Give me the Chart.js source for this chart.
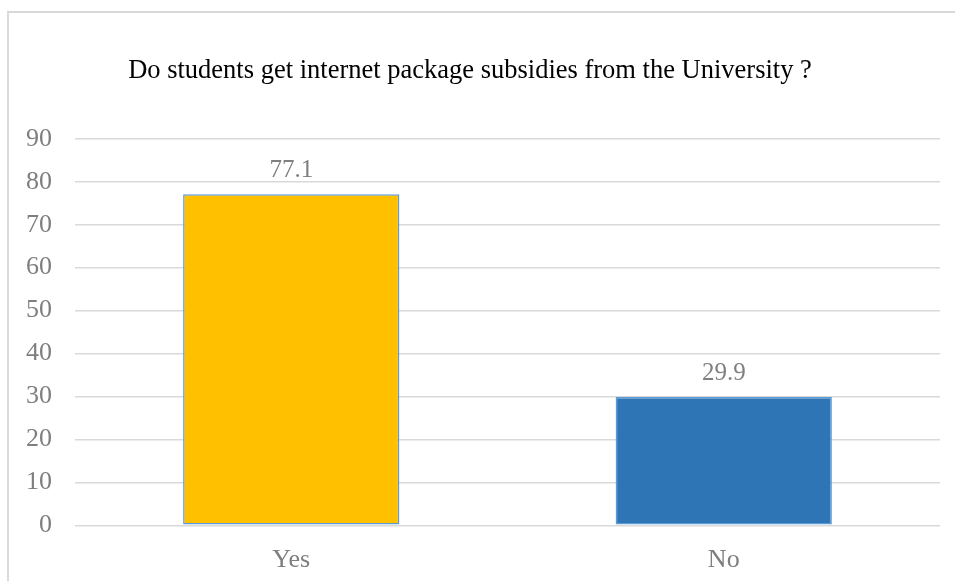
<!DOCTYPE html>
<html>
<head>
<meta charset="utf-8">
<script src="https://cdn.jsdelivr.net/npm/chart.js@4/dist/chart.umd.min.js"></script>
<style>
  html, body { margin: 0; padding: 0; background: #fff; }
  #wrap { position: relative; width: 955px; height: 581px; }
  #frame {
    position: absolute; left: 7px; top: 11px; right: 0; bottom: 0;
    border-top: 2px solid #d9d9d9; border-left: 2px solid #d9d9d9;
    pointer-events: none;
  }
  canvas { position: absolute; left: 0; top: 0; }
</style>
</head>
<body>
<div id="wrap">
  <canvas id="chart" width="955" height="581"></canvas>
  <div id="frame"></div>
</div>
<script>
// ─── Data ───────────────────────────────────────────
const categories = ['Yes', 'No'];
const values     = [77.1, 29.9];
const barColors  = ['#FFC000', '#2E75B6'];
const yTicks     = [0, 10, 20, 30, 40, 50, 60, 70, 80, 90];
const title      = 'Do students get internet package subsidies from the University ?';

const SERIF = "'Times New Roman', 'Liberation Serif', serif";
const GREY  = '#7f7f7f';

// value labels above each bar
const valueLabels = {
  id: 'valueLabels',
  afterDatasetsDraw(chart) {
    const ctx = chart.ctx;
    const meta = chart.getDatasetMeta(0);
    ctx.save();
    ctx.font = `25px ${SERIF}`;
    ctx.fillStyle = GREY;
    ctx.textAlign = 'center';
    ctx.textBaseline = 'alphabetic';
    meta.data.forEach((bar, i) => {
      ctx.fillText(String(values[i]), bar.x, bar.y - 17);
    });
    ctx.restore();
  }
};

new Chart(document.getElementById('chart'), {
  type: 'bar',
  data: {
    labels: categories,
    datasets: [{
      data: values,
      backgroundColor: barColors,
      borderColor: '#5B9BD5',
      borderWidth: 1.5,
      borderSkipped: false,
      barPercentage: 0.5,
      categoryPercentage: 1.0,
    }]
  },
  options: {
    responsive: false,
    animation: false,
    layout: { padding: { left: 0, right: 15, top: 0, bottom: 0 } },
    plugins: {
      legend: { display: false },
      tooltip: { enabled: false },
      title: {
        display: true,
        text: title,
        color: '#000',
        font: { family: SERIF, size: 26.5, weight: 'normal', lineHeight: 1.2 },
        padding: { top: 55, bottom: 52 },
      },
    },
    scales: {
      x: {
        grid: { display: false, drawTicks: false },
        border: { display: false },
        ticks: { color: GREY, font: { family: SERIF, size: 26 }, padding: 19 },
        afterFit: s => { s.height = 55.7; },
      },
      y: {
        min: 0, max: 90,
        afterBuildTicks: s => { s.ticks = yTicks.map(v => ({ value: v })); },
        grid: { color: '#d9d9d9', lineWidth: 1.5, drawTicks: false },
        border: { display: false },
        ticks: { color: GREY, font: { family: SERIF, size: 26 }, padding: 23 },
        afterFit: s => { s.width = 75; },
      }
    }
  },
  plugins: [valueLabels]
});
</script>
</body>
</html>
